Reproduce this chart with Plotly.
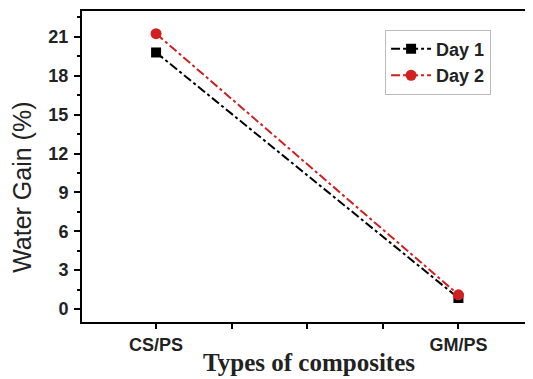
import plotly.graph_objects as go

categories = ["CS/PS", "GM/PS"]
cat_pos = [0, 1]
day1 = [19.8, 0.85]
day2 = [21.25, 1.1]
y_ticks = [0, 3, 6, 9, 12, 15, 18, 21]

fig = go.Figure()
fig.add_trace(go.Scatter(x=cat_pos, y=day1, name="Day 1", mode="lines+markers",
                         line=dict(color="black", width=2, dash="dashdot"),
                         marker=dict(symbol="square", size=10, color="black")))
fig.add_trace(go.Scatter(x=cat_pos, y=day2, name="Day 2", mode="lines+markers",
                         line=dict(color="#d21f1f", width=2, dash="dashdot"),
                         marker=dict(symbol="circle", size=11, color="#d21f1f")))

fig.update_layout(
    width=525, height=371,
    margin=dict(l=74, r=2, t=3, b=57),
    paper_bgcolor="white", plot_bgcolor="white",
    showlegend=True,
    legend=dict(x=0.675, y=0.94, xanchor="left", yanchor="top",
                bordercolor="#bbbbbb", borderwidth=1, bgcolor="white",
                font=dict(family="Liberation Sans", size=18, color="#222", weight="bold"),
                tracegroupgap=0, itemwidth=40),
    xaxis=dict(range=[-0.245, 1.24], tickvals=[0, 0.25, 0.5, 0.75, 1],
               ticktext=[categories[0], "", "", "", categories[1]],
               automargin=False,
               showline=True, linecolor="black", linewidth=2, mirror=True,
               ticks="outside", ticklen=5, tickwidth=2, tickcolor="black",
               showgrid=False, zeroline=False,
               tickfont=dict(family="Liberation Sans", size=18, color="#222", weight="bold")),
    yaxis=dict(range=[-1, 23], tickvals=y_ticks,
               automargin=False,
               showline=True, linecolor="black", linewidth=2, mirror=True,
               ticks="outside", ticklen=6, tickwidth=2, tickcolor="black",
               minor=dict(dtick=1.5, tick0=0, ticks="outside", ticklen=3, tickwidth=1.5, tickcolor="black"),
               showgrid=False, zeroline=False,
               ticklabelstandoff=2,
               tickfont=dict(family="Liberation Sans", size=18, color="#222", weight="bold")),
    annotations=[
        dict(text="Water Gain (%)", xref="paper", yref="paper", x=-0.134, y=0.434,
             xanchor="center", yanchor="middle", textangle=-90, showarrow=False,
             font=dict(family="Liberation Sans", size=25, color="#222")),
        dict(text="<b>Types of composites</b>", xref="paper", yref="paper", x=0.505, y=-0.13,
             xanchor="center", yanchor="middle", showarrow=False,
             font=dict(family="Liberation Serif", size=25, color="#222")),
    ],
)

fig.write_html("out.html")
